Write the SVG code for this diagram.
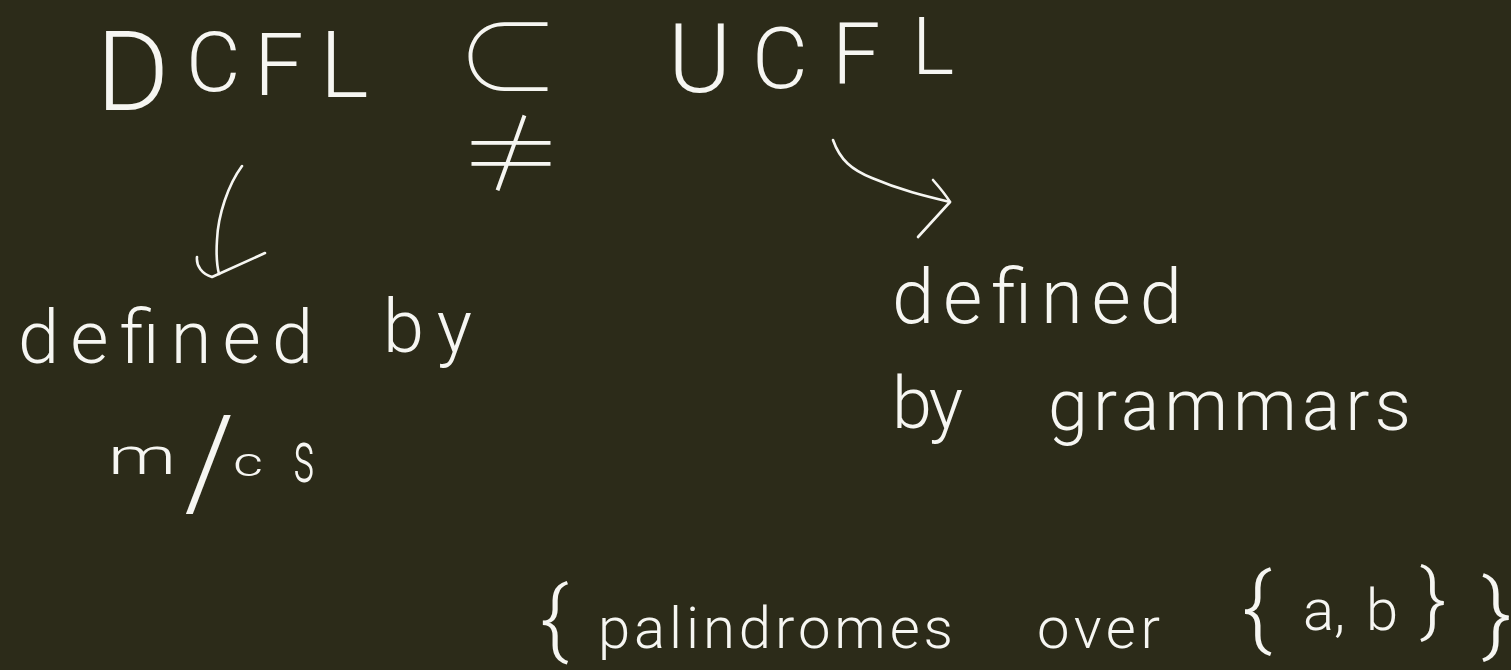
<svg xmlns="http://www.w3.org/2000/svg" width="1511" height="670" viewBox="0 0 1511 670">
  <style>
    .ink { fill: #f6f6f2; font-family: Roboto, "Open Sans", "Liberation Sans", sans-serif; font-weight: 300; }
    .sym { fill: #f6f6f2; font-family: "Noto Sans CJK SC", "DejaVu Sans", sans-serif; font-weight: 100; }
    .stroke { fill: none; stroke: #f6f6f2; stroke-width: 2.6; stroke-linecap: round; stroke-linejoin: round; }
  </style>
  <rect width="1511" height="670" fill="#2c2b19"/>

  <!-- DCFL ⊂≠ UCFL -->
  <g id="dcfl">
    <text class="ink" font-size="112" x="96" y="110">D</text>
    <text class="ink" font-size="84" x="186" y="91">C</text>
    <text class="ink" font-size="88" x="254" y="95">F</text>
    <text class="ink" font-size="92" x="320" y="97">L</text>
  </g>
  <g id="subset">
    <text class="sym" font-size="106"><tspan x="455" y="96">⊂</tspan><tspan x="458" y="192">≠</tspan></text>
  </g>
  <g id="ucfl">
    <text class="ink" font-size="96" x="668" y="92">U</text>
    <text class="ink" font-size="86" x="752" y="88">C</text>
    <text class="ink" font-size="86" x="832" y="83">F</text>
    <text class="ink" font-size="80" x="912" y="74">L</text>
  </g>

  <!-- left label -->
  <g id="defined-by-mcs">
    <text class="ink" font-size="74" x="18" y="363" textLength="295" lengthAdjust="spacing">defined</text>
    <text class="ink" font-size="74" x="383" y="352" textLength="89" lengthAdjust="spacing">by</text>
    <text class="ink" font-size="52" x="108" y="474" textLength="68" lengthAdjust="spacingAndGlyphs">m</text>
    <text class="ink" font-size="128" x="184" y="506">/</text>
    <text class="ink" font-size="40" x="233" y="476" textLength="30" lengthAdjust="spacingAndGlyphs">c</text>
    <text class="ink" font-size="74" x="293" y="482" textLength="22" lengthAdjust="spacingAndGlyphs">s</text>
  </g>

  <!-- right label -->
  <g id="defined-by-grammars">
    <text class="ink" font-size="76" x="892" y="323" textLength="290" lengthAdjust="spacing">defined</text>
    <text class="ink" font-size="72" x="892" y="428" textLength="71" lengthAdjust="spacing">by</text>
    <text class="ink" font-size="72" x="1048" y="430" textLength="363" lengthAdjust="spacing">grammars</text>
  </g>

  <!-- example set -->
  <g id="palindromes">
    <text class="ink" font-size="86" x="540" y="648">{</text>
    <text class="ink" font-size="58" x="598" y="648" textLength="355" lengthAdjust="spacing">palindromes</text>
    <text class="ink" font-size="58" x="1037" y="648" textLength="123" lengthAdjust="spacing">over</text>
    <text class="ink" font-size="90" x="1242" y="638">{</text>
    <text class="ink" font-size="58" x="1303" y="630">a,</text>
    <text class="ink" font-size="58" x="1366" y="630">b</text>
    <text class="ink" font-size="80" x="1420" y="626">}</text>
    <text class="ink" font-size="90" x="1482" y="644">}</text>
  </g>

  <!-- arrows -->
  <g id="connectors">
    <path class="stroke" d="M242 166 C228 185 218 215 217 240 C216 255 217 266 219 274"/>
    <path class="stroke" d="M197 257 C196 266 202 274 212 277 L265 253"/>
    <path class="stroke" d="M833 140 C840 160 852 170 872 178 C900 190 925 196 950 202"/>
    <path class="stroke" d="M933 180 C940 188 946 195 950 202 L918 237"/>
  </g>
</svg>
